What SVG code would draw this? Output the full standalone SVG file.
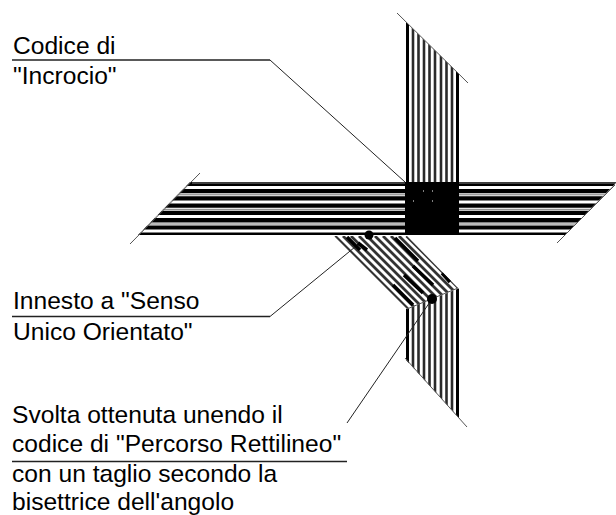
<svg xmlns="http://www.w3.org/2000/svg" width="616" height="515" viewBox="0 0 616 515">
<style>
.t{font-family:"Liberation Sans",Arial,sans-serif;font-size:24.6px;fill:#000}
.lead{fill:none;stroke:#222;stroke-width:1}
.rule{fill:none;stroke:#222;stroke-width:1.500}
.v{stroke:#2a2a2a;stroke-width:2.600;fill:none}
.e{stroke:#000;stroke-width:3;fill:none}
.h{stroke:#fff;stroke-width:3;fill:none}
.hg{stroke:#777;stroke-width:1;fill:none}
.g{stroke:#555;stroke-width:1;fill:none}
.k{stroke:#000;stroke-width:3.500;fill:none}
</style>
<defs>
<clipPath id="diag"><polygon points="334,236 407,236 458,288 407,309"/></clipPath>
<clipPath id="vtop"><polygon points="406,22 460,75 460,182 406,182"/></clipPath>
<clipPath id="vbot"><polygon points="406,309 460,288 460,419 406,360"/></clipPath>
<clipPath id="hband"><polygon points="191,181 618,181 564,236 137,236"/></clipPath>
</defs>
<rect width="616" height="515" fill="#fff"/>
<g id="vertical-road">
<g clip-path="url(#vtop)">
<path class="e" d="M407.500 20V182M457.500 20V182"/>
<path class="v" d="M413 20V182M418.500 20V182M424 20V182M429.500 20V182M435 20V182M441 20V182M446.500 20V182M452 20V182"/>
</g>
<g clip-path="url(#vbot)">
<path class="e" d="M407.500 285V430M457.500 285V430"/>
<path class="v" d="M413 285V430M418.500 285V430M424 285V430M429.500 285V430M435 285V430M441 285V430M446.500 285V430M452 285V430"/>
</g>
<path class="g" d="M397 13L468 83M405 358L467 427"/>
</g>
<g id="horizontal-road">
<g clip-path="url(#hband)">
<rect x="130" y="182" width="486" height="53" fill="#000"/>
<path class="h" d="M130 187.500H405M130 194.800H405M130 202H405M130 209.300H405M130 216.600H405M130 224H405M130 231H405"/>
<path class="h" d="M459 187.500H616M459 194.800H616M459 202H616M459 209.300H616M459 216.600H616M459 224H616M459 231H616"/>
<path class="hg" d="M130 194.800H405M130 209.300H405M130 224H405M459 194.800H616M459 209.300H616M459 224H616"/>
</g>
<path class="g" d="M200 173L130 244M615 185L557 243"/>
<path d="M192 183H405M459 183H616" stroke="#fff" stroke-width="1" opacity=".5"/>
</g>
<g id="crossing">
<rect x="405" y="182" width="54" height="53" fill="#000"/>
<path d="M423 191h1M432 191h1M413 201h1M432 201h1" stroke="#fff" stroke-width="1"/>
</g>
<g id="diagonal-road">
<polygon points="334,236 407,236 458,288 407,309" fill="#fff"/>
<g clip-path="url(#diag)">
<path stroke="#333" stroke-width="2.800" fill="none" d="M335 236L408 309M343 236L416 309M351 236L424 309M359 236L432 309M367 236L440 309M375 236L448 309M383 236L456 309M391 236L464 309M399 236L472 309M406.500 236L479.500 309"/>
<path class="k" d="M347 237L360 250M358 243L367 250M395 238L418 261M413 266L433 285M404 275L423 293M393 285L413 305M442 273L450 282"/>
</g>
<path class="g" d="M407 309L458 288"/>
</g>
<g id="connectors">
<path class="rule" d="M12 60H270"/>
<path class="lead" d="M270 60L405 182"/>
<path class="rule" d="M12 316.500H270"/>
<path class="lead" d="M270 316.500L355 247"/>
<path class="lead" d="M347 423L432 299"/>
<path class="rule" d="M12 461.500H347"/>
<circle cx="369" cy="235" r="4.500" fill="#000"/>
<circle cx="432" cy="299" r="5" fill="#000"/>
</g>
<g id="labels">
<text class="t" x="13" y="54">Codice di</text>
<text class="t" x="13" y="84">"Incrocio"</text>
<text class="t" x="13" y="309">Innesto a "Senso</text>
<text class="t" x="13" y="340">Unico Orientato"</text>
<text class="t" x="12" y="423">Svolta ottenuta unendo il</text>
<text class="t" x="12" y="452">codice di "Percorso Rettilineo"</text>
<text class="t" x="12" y="482">con un taglio secondo la</text>
<text class="t" x="12" y="510">bisettrice dell'angolo</text>
</g>
</svg>
